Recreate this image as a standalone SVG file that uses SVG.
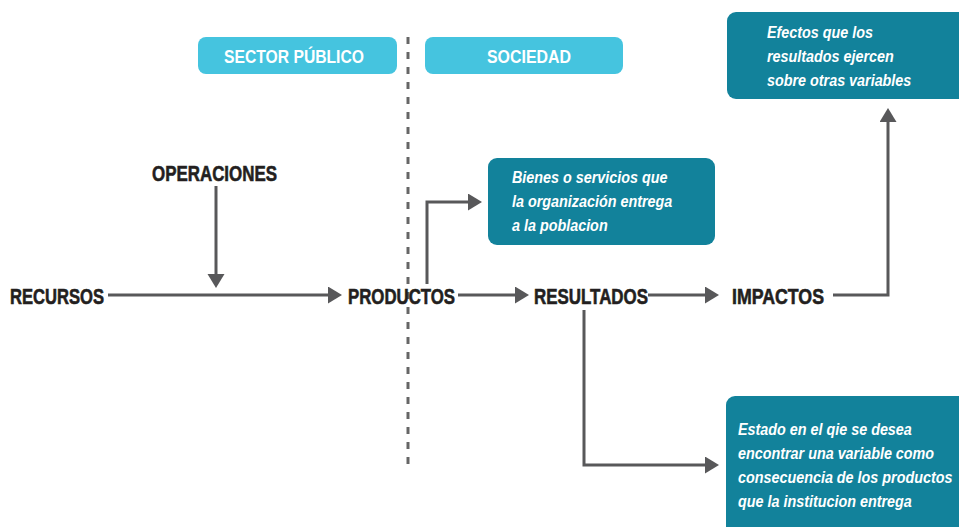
<svg xmlns="http://www.w3.org/2000/svg" width="959" height="527" viewBox="0 0 959 527">
  <defs>
    <style>
      .lbl { font-family: "Liberation Sans", Arial, sans-serif; font-weight: bold; font-size: 22px; fill: #231F20; stroke: #231F20; stroke-width: 0.6px; }
      .hdr { fill: #45C4DF; }
      .hdrt { font-family: "Liberation Sans", Arial, sans-serif; font-weight: bold; font-size: 19px; fill: #FFFFFF; text-anchor: middle; }
      .box { fill: #12829B; }
      .boxt { font-family: "Liberation Sans", Arial, sans-serif; font-weight: bold; font-style: italic; font-size: 16.5px; fill: #FFFFFF; }
      .conn { fill: none; stroke: #58585A; stroke-width: 3; marker-end: url(#arrow); }
      .divider { fill: none; stroke: #666666; stroke-width: 3; stroke-dasharray: 7 8; }
    </style>
    <marker id="arrow" markerUnits="userSpaceOnUse" markerWidth="15" markerHeight="18" refX="0" refY="8.5" orient="auto">
      <path d="M0,0 L14,8.5 L0,17 z" fill="#58585A"/>
    </marker>
  </defs>
  <rect width="959" height="527" fill="#FFFFFF"/>

  <line class="divider" x1="408" y1="37" x2="408" y2="470"/>

  <g id="sector-publico">
    <rect class="hdr" x="198" y="37" width="199" height="37" rx="8"/>
    <text class="hdrt" x="294" y="63" textLength="140" lengthAdjust="spacingAndGlyphs">SECTOR PÚBLICO</text>
  </g>
  <g id="sociedad">
    <rect class="hdr" x="425" y="37" width="198" height="37" rx="8"/>
    <text class="hdrt" x="529" y="63" textLength="84" lengthAdjust="spacingAndGlyphs">SOCIEDAD</text>
  </g>

  <g id="connectors">
    <path class="conn" d="M108,295 H328"/>
    <path class="conn" d="M216,186 V274"/>
    <path class="conn" d="M427,284 V202 H468"/>
    <path class="conn" d="M458,295 H515"/>
    <path class="conn" d="M648,295 H705"/>
    <path class="conn" d="M833,295 H888 V122"/>
    <path class="conn" d="M584,310 V465 H705"/>
  </g>

  <g id="recursos">
    <text class="lbl" x="10" y="304" textLength="94" lengthAdjust="spacingAndGlyphs">RECURSOS</text>
  </g>
  <g id="operaciones">
    <text class="lbl" x="152" y="181" textLength="125" lengthAdjust="spacingAndGlyphs">OPERACIONES</text>
  </g>
  <g id="productos">
    <text class="lbl" x="348" y="304" textLength="107" lengthAdjust="spacingAndGlyphs">PRODUCTOS</text>
  </g>
  <g id="resultados">
    <text class="lbl" x="534" y="304" textLength="114" lengthAdjust="spacingAndGlyphs">RESULTADOS</text>
  </g>
  <g id="impactos">
    <text class="lbl" x="732" y="304" textLength="92" lengthAdjust="spacingAndGlyphs">IMPACTOS</text>
  </g>

  <g id="nota-impactos">
    <rect class="box" x="727" y="12" width="245" height="87" rx="9"/>
    <g transform="translate(767,0) scale(0.87,1)">
      <text class="boxt" x="0" y="38">Efectos que los</text>
      <text class="boxt" x="0" y="62">resultados ejercen</text>
      <text class="boxt" x="0" y="86">sobre otras variables</text>
    </g>
  </g>

  <g id="nota-productos">
    <rect class="box" x="488" y="158" width="227" height="87" rx="9"/>
    <g transform="translate(512,0) scale(0.87,1)">
      <text class="boxt" x="0" y="183">Bienes o servicios que</text>
      <text class="boxt" x="0" y="207">la organización entrega</text>
      <text class="boxt" x="0" y="231">a la poblacion</text>
    </g>
  </g>

  <g id="nota-resultados">
    <rect class="box" x="726" y="396" width="245" height="145" rx="9"/>
    <g transform="translate(738,0) scale(0.87,1)">
      <text class="boxt" x="0" y="435">Estado en el qie se desea</text>
      <text class="boxt" x="0" y="459">encontrar una variable como</text>
      <text class="boxt" x="0" y="483">consecuencia de los productos</text>
      <text class="boxt" x="0" y="507">que la institucion entrega</text>
    </g>
  </g>
</svg>
